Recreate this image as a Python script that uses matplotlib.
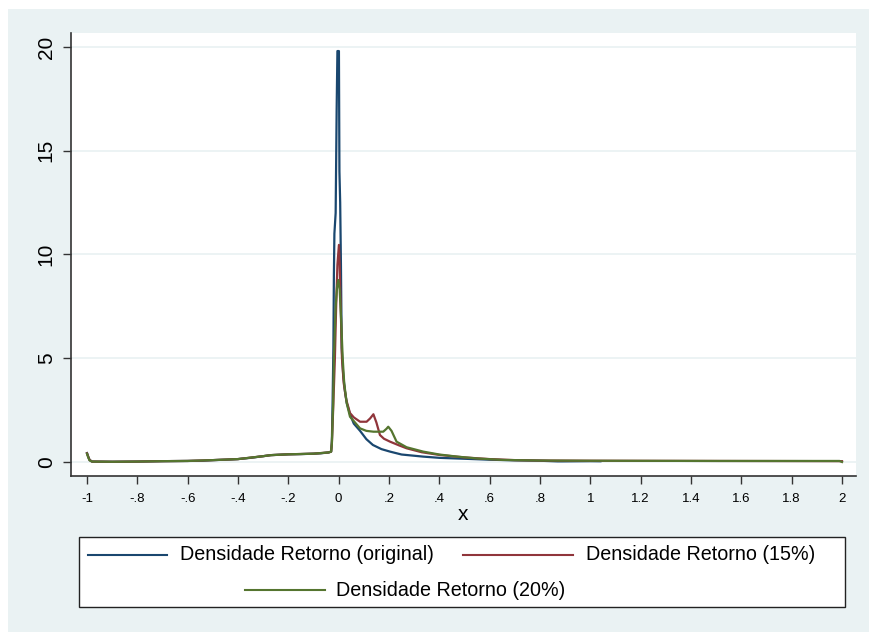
import matplotlib
matplotlib.use("Agg")
import matplotlib.pyplot as plt
from matplotlib.lines import Line2D
from matplotlib.patches import Rectangle

# ---- data ----
x_orig = [-1.0, -0.995, -0.99, -0.98, -0.9, -0.8, -0.7, -0.6, -0.54, -0.5, -0.45, -0.4, -0.35,
          -0.3, -0.27, -0.2, -0.15, -0.1, -0.07, -0.04, -0.03, -0.027, -0.024, -0.021, -0.019,
          -0.017, -0.012, -0.008, -0.005, 0.001, 0.003, 0.006, 0.009, 0.012, 0.018,
          0.025, 0.032, 0.045, 0.06, 0.085, 0.11, 0.136, 0.17, 0.204, 0.25, 0.335, 0.4,
          0.534, 0.6, 0.7, 0.8, 0.87, 0.89, 1.0, 1.04]
y_orig = [0.43, 0.25, 0.1, 0.02, 0.01, 0.02, 0.04, 0.05, 0.06, 0.09, 0.11, 0.14, 0.2,
          0.28, 0.33, 0.37, 0.38, 0.4, 0.42, 0.46, 0.5, 1.0, 3.0, 5.5, 9.0,
          11.0, 12.0, 17.0, 19.8, 19.8, 14.0, 12.5, 9.5, 5.5, 4.2,
          3.4, 2.85, 2.3, 1.85, 1.5, 1.1, 0.82, 0.62, 0.5, 0.36, 0.26, 0.2,
          0.14, 0.11, 0.08, 0.06, 0.03, 0.03, 0.04, 0.035]

x_15 = [-1.0, -0.995, -0.99, -0.98, -0.9, -0.8, -0.7, -0.6, -0.5, -0.4, -0.3, -0.27, -0.2,
        -0.1, -0.04, -0.03, -0.027, -0.022, -0.015, -0.01, -0.005, 0.001, 0.004, 0.008,
        0.013, 0.02, 0.03, 0.045, 0.06, 0.085, 0.111, 0.125, 0.138, 0.15, 0.164, 0.18,
        0.204, 0.24, 0.27, 0.33, 0.4, 0.5, 0.6, 0.7, 0.8, 1.0, 1.5, 2.0]
y_15 = [0.42, 0.25, 0.1, 0.02, 0.01, 0.02, 0.04, 0.05, 0.09, 0.14, 0.28, 0.33, 0.37,
        0.4, 0.46, 0.5, 0.9, 2.5, 5.0, 7.5, 9.5, 10.46, 9.5, 7.5,
        5.0, 3.8, 3.0, 2.36, 2.15, 1.94, 1.94, 2.1, 2.3, 1.9, 1.3, 1.12,
        0.98, 0.8, 0.66, 0.47, 0.34, 0.22, 0.14, 0.09, 0.07, 0.06, 0.05, 0.04]

x_20 = [-1.0, -0.995, -0.99, -0.98, -0.9, -0.8, -0.7, -0.6, -0.5, -0.4, -0.3, -0.27, -0.2,
        -0.1, -0.04, -0.03, -0.027, -0.022, -0.019, -0.012, -0.006, -0.0015, 0.004,
        0.01, 0.016, 0.022, 0.032, 0.045, 0.058, 0.085, 0.11, 0.138, 0.177, 0.19,
        0.197, 0.21, 0.23, 0.27, 0.336, 0.4, 0.47, 0.55, 0.65, 0.8, 1.0, 1.5, 1.99, 2.0]
y_20 = [0.4, 0.22, 0.08, 0.02, 0.01, 0.02, 0.04, 0.05, 0.09, 0.14, 0.28, 0.33, 0.37,
        0.4, 0.46, 0.5, 0.9, 2.8, 5.0, 7.5, 8.5, 8.77, 8.3,
        6.8, 5.0, 3.8, 2.83, 2.18, 2.0, 1.62, 1.5, 1.46, 1.46, 1.6,
        1.7, 1.5, 0.98, 0.71, 0.5, 0.36, 0.26, 0.17, 0.1, 0.07, 0.06, 0.05, 0.05, 0.0]

labels = ["Densidade Retorno (original)", "Densidade Retorno (15%)", "Densidade Retorno (20%)"]
colors = ["#1A476F", "#90353B", "#55752F"]

y_ticks = [0, 5, 10, 15, 20]
x_ticks = [-1, -0.8, -0.6, -0.4, -0.2, 0, 0.2, 0.4, 0.6, 0.8, 1, 1.2, 1.4, 1.6, 1.8, 2]
x_ticklabels = ["-1", "-.8", "-.6", "-.4", "-.2", "0", ".2", ".4", ".6", ".8",
                "1", "1.2", "1.4", "1.6", "1.8", "2"]

# ---- figure ----
W, H = 869, 632
plt.rcParams['font.family'] = ['Liberation Sans', 'DejaVu Sans']
fig = plt.figure(figsize=(W / 100, H / 100), dpi=100)
fig.patch.set_facecolor("white")
bg = "#EAF2F3"
fig.add_artist(Rectangle((8 / W, 0), 1 - 8 / W, 1 - 9 / H, transform=fig.transFigure,
                         facecolor=bg, edgecolor="none", zorder=-10))

left, right, top, bottom = 71, 856, 33, 476
ax = fig.add_axes([left / W, 1 - bottom / H, (right - left) / W, (bottom - top) / H])
ax.set_facecolor("white")

series = [(x_orig, y_orig), (x_15, y_15), (x_20, y_20)]
lines = []
for (xs, ys), c, lab in zip(series, colors, labels):
    ln, = ax.plot(xs, ys, color=c, lw=1.6, label=lab)
    lines.append(ln)

ax.set_xlim(-1.0636, 2.0556)
ax.set_ylim(-0.675, 20.67)

ax.set_yticks(y_ticks)
ax.set_yticklabels([str(v) for v in y_ticks], rotation=90, va="center", fontsize=15)
ax.set_xticks(x_ticks)
ax.set_xticklabels(x_ticklabels, fontsize=9.5)
ax.tick_params(axis="both", direction="out", length=6, width=1, color="#333333")
ax.tick_params(axis="y", pad=5)
ax.tick_params(axis="x", pad=6)
ax.yaxis.grid(True, color=bg, lw=1.3)
ax.set_axisbelow(True)
for s in ["top", "right"]:
    ax.spines[s].set_visible(False)
for s in ["left", "bottom"]:
    ax.spines[s].set_color("#333333")
    ax.spines[s].set_linewidth(1.2)
ax.set_xlabel("x", fontsize=15, labelpad=0)

# ---- legend drawn manually (Stata-style box) ----
def fx(px):
    return px / W
def fy(py):
    return 1 - py / H

fig.add_artist(Rectangle((fx(79), fy(607)), fx(845) - fx(79), fy(537) - fy(607),
                         transform=fig.transFigure, facecolor="white", edgecolor="#222222",
                         lw=1.0))
legend_items = [((88, 167), 555, (180,)), ((463, 573), 555, (586,)), ((245, 325), 590, (336,))]
for ln, lab, ((x0, x1), yy, (tx,)) in zip(lines, labels, legend_items):
    fig.add_artist(Line2D([fx(x0), fx(x1)], [fy(yy), fy(yy)], transform=fig.transFigure,
                          color=ln.get_color(), lw=1.5))
    fig.text(fx(tx), fy(yy), lab, fontsize=14.2, va="center", ha="left")

fig.savefig("out.png", dpi=100, facecolor=fig.get_facecolor())
